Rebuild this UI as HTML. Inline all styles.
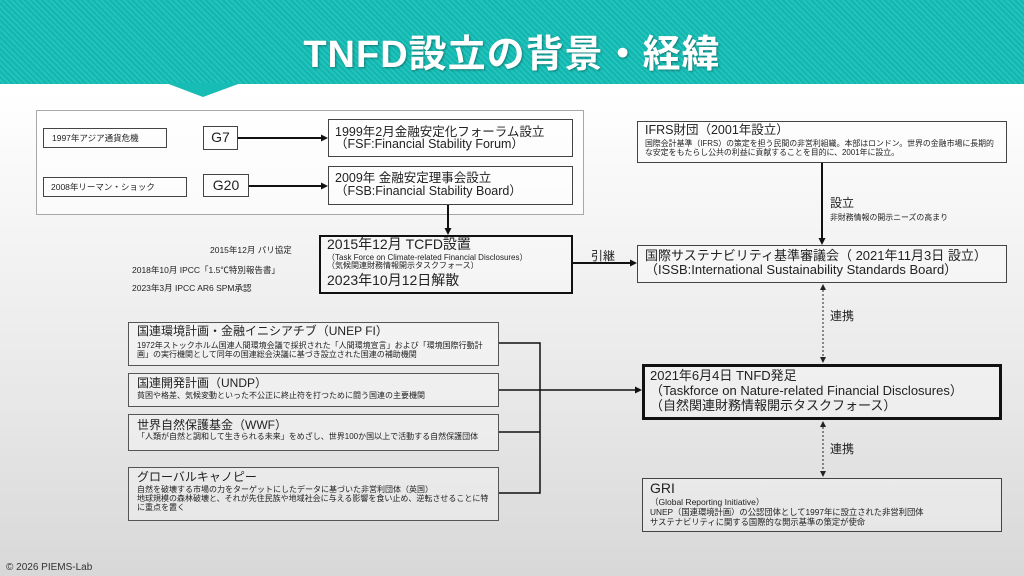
<!DOCTYPE html>
<html><head><meta charset="utf-8"><style>
*{margin:0;padding:0;box-sizing:border-box}
body{width:1024px;height:576px;overflow:hidden;position:relative;font-family:"Liberation Sans","Noto Sans CJK JP",sans-serif;color:#222;background:linear-gradient(to bottom,#ffffff 0px,#ffffff 90px,#f3f3f3 250px,#e6e6e6 420px,#d8d8d8 576px)}
.hdr{position:absolute;left:0;top:0;width:1024px;height:84px;background-color:#17bcb4;background-image:repeating-linear-gradient(45deg,#13b6ae 0px,#13b6ae 2px,#21c3bb 2px,#21c3bb 4px)}
.title{position:absolute;left:0;top:30px;width:1024px;text-align:center;color:#fff;font-size:38px;font-weight:bold;line-height:50px;letter-spacing:1px;font-family:"Liberation Sans","Noto Sans CJK JP",sans-serif;text-shadow:1px 1px 2px rgba(0,0,0,0.35)}
.b{position:absolute;border:1.5px solid #444;background:rgba(255,255,255,0.3)}
.t{position:absolute;white-space:nowrap;line-height:1}
svg{position:absolute;left:0;top:0}
</style></head><body>
<div class="hdr"></div>
<svg width="1024" height="110"><polygon points="166,83 241,83 203,97" fill="#17bcb4"/></svg>
<div class="title">TNFD設立の背景・経緯</div>

<!-- top outer box -->
<div class="b" style="left:36px;top:110px;width:548px;height:105px;border:1px solid #a8a8a8;background:rgba(255,255,255,0.55)"></div>
<div class="b" style="left:43px;top:128px;width:124px;height:20px;border-width:1px"></div>
<div class="b" style="left:43px;top:177px;width:144px;height:20px;border-width:1px"></div>
<div class="b" style="left:203px;top:126px;width:35px;height:24px"></div>
<div class="b" style="left:203px;top:174px;width:46px;height:23px"></div>
<div class="b" style="left:328px;top:119px;width:245px;height:38px"></div>
<div class="b" style="left:328px;top:166px;width:245px;height:39px"></div>

<div class="t" style="left:52px;top:134px;font-size:8.5px">1997年アジア通貨危機</div>
<div class="t" style="left:51px;top:183px;font-size:8.5px">2008年リーマン・ショック</div>
<div class="t" style="left:203px;top:130px;width:35px;text-align:center;font-size:14px">G7</div>
<div class="t" style="left:203px;top:178px;width:46px;text-align:center;font-size:14px">G20</div>
<div class="t" style="left:335px;top:125.5px;font-size:12.5px">1999年2月金融安定化フォーラム設立</div>
<div class="t" style="left:335px;top:137.5px;font-size:12.5px">（FSF:Financial Stability Forum）</div>
<div class="t" style="left:335px;top:171.5px;font-size:12.5px">2009年 金融安定理事会設立</div>
<div class="t" style="left:335px;top:184.5px;font-size:12.5px">（FSB:Financial Stability Board）</div>

<!-- side notes -->
<div class="t" style="left:210px;top:245.5px;font-size:8.5px">2015年12月 パリ協定</div>
<div class="t" style="left:132px;top:265.5px;font-size:8.5px">2018年10月 IPCC「1.5℃特別報告書」</div>
<div class="t" style="left:132px;top:283.5px;font-size:8.5px">2023年3月 IPCC AR6 SPM承認</div>

<!-- TCFD -->
<div class="b" style="left:319px;top:235px;width:254px;height:59px;border:2.5px solid #111"></div>
<div class="t" style="left:327px;top:237px;font-size:14px">2015年12月 TCFD設置</div>
<div class="t" style="left:327px;top:254px;font-size:8px">（Task Force on Climate-related Financial Disclosures）</div>
<div class="t" style="left:327px;top:262px;font-size:8px">（気候関連財務情報開示タスクフォース）</div>
<div class="t" style="left:327px;top:273px;font-size:14px">2023年10月12日解散</div>
<div class="t" style="left:591px;top:250px;font-size:12px">引継</div>

<!-- IFRS -->
<div class="b" style="left:637px;top:121px;width:370px;height:42px"></div>
<div class="t" style="left:645px;top:123.5px;font-size:12.5px">IFRS財団（2001年設立）</div>
<div class="t" style="left:645px;top:140px;font-size:7.9px">国際会計基準（IFRS）の策定を担う民間の非営利組織。本部はロンドン。世界の金融市場に長期的</div>
<div class="t" style="left:645px;top:148.5px;font-size:7.9px">な安定をもたらし公共の利益に貢献することを目的に、2001年に設立。</div>
<div class="t" style="left:830px;top:197px;font-size:12px">設立</div>
<div class="t" style="left:830px;top:214px;font-size:7.9px">非財務情報の開示ニーズの高まり</div>

<!-- ISSB -->
<div class="b" style="left:637px;top:245px;width:370px;height:38px"></div>
<div class="t" style="left:645px;top:248.5px;font-size:13px">国際サステナビリティ基準審議会（ 2021年11月3日 設立）</div>
<div class="t" style="left:645px;top:262.5px;font-size:13px">（ISSB:International Sustainability Standards Board）</div>
<div class="t" style="left:830px;top:310px;font-size:12px">連携</div>

<!-- TNFD -->
<div class="b" style="left:642px;top:364px;width:360px;height:56px;border:3px solid #111"></div>
<div class="t" style="left:650px;top:368.5px;font-size:13px">2021年6月4日 TNFD発足</div>
<div class="t" style="left:650px;top:383.5px;font-size:13px">（Taskforce on Nature-related Financial Disclosures）</div>
<div class="t" style="left:650px;top:398.5px;font-size:13px">（自然関連財務情報開示タスクフォース）</div>
<div class="t" style="left:830px;top:443px;font-size:12px">連携</div>

<!-- GRI -->
<div class="b" style="left:642px;top:478px;width:360px;height:54px"></div>
<div class="t" style="left:650px;top:481px;font-size:14px">GRI</div>
<div class="t" style="left:650px;top:497.5px;font-size:8.5px">（Global Reporting Initiative）</div>
<div class="t" style="left:650px;top:508px;font-size:8.3px">UNEP（国連環境計画）の公認団体として1997年に設立された非営利団体</div>
<div class="t" style="left:650px;top:518px;font-size:8.3px">サステナビリティに関する国際的な開示基準の策定が使命</div>

<!-- left boxes -->
<div class="b" style="left:128px;top:322px;width:371px;height:44px;border-color:#555"></div>
<div class="t" style="left:137px;top:325px;font-size:12px">国連環境計画・金融イニシアチブ（UNEP FI）</div>
<div class="t" style="left:137px;top:342px;font-size:8px">1972年ストックホルム国連人間環境会議で採択された「人間環境宣言」および「環境国際行動計</div>
<div class="t" style="left:137px;top:351px;font-size:8px">画」の実行機関として同年の国連総会決議に基づき設立された国連の補助機関</div>

<div class="b" style="left:128px;top:373px;width:371px;height:34px;border-color:#555"></div>
<div class="t" style="left:137px;top:377px;font-size:12px">国連開発計画（UNDP）</div>
<div class="t" style="left:137px;top:392px;font-size:8px">貧困や格差、気候変動といった不公正に終止符を打つために闘う国連の主要機関</div>

<div class="b" style="left:128px;top:414px;width:371px;height:37px;border-color:#555"></div>
<div class="t" style="left:137px;top:419px;font-size:12px">世界自然保護基金（WWF）</div>
<div class="t" style="left:137px;top:433px;font-size:8px">「人類が自然と調和して生きられる未来」をめざし、世界100か国以上で活動する自然保護団体</div>

<div class="b" style="left:128px;top:467px;width:371px;height:54px;border-color:#555"></div>
<div class="t" style="left:137px;top:471px;font-size:12px">グローバルキャノピー</div>
<div class="t" style="left:137px;top:486px;font-size:8px">自然を破壊する市場の力をターゲットにしたデータに基づいた非営利団体（英国）</div>
<div class="t" style="left:137px;top:495px;font-size:8px">地球規模の森林破壊と、それが先住民族や地域社会に与える影響を食い止め、逆転させることに特</div>
<div class="t" style="left:137px;top:504px;font-size:8px">に重点を置く</div>

<div class="t" style="left:6px;top:563px;font-size:10px;color:#333">© 2026 PIEMS-Lab</div>

<svg width="1024" height="576">
 <g stroke="#111" stroke-width="2" fill="none">
  <line x1="238" y1="138" x2="323" y2="138"/>
  <line x1="249" y1="186" x2="323" y2="186"/>
  <line x1="448" y1="205" x2="448" y2="230"/>
  <line x1="573" y1="263" x2="632" y2="263"/>
  <line x1="822" y1="163" x2="822" y2="240"/>
 </g>
 <g fill="#111">
  <polygon points="328,138 321,134.5 321,141.5"/>
  <polygon points="328,186 321,182.5 321,189.5"/>
  <polygon points="448,235 444.5,228 451.5,228"/>
  <polygon points="637,263 630,259.5 630,266.5"/>
  <polygon points="822,245 818.5,238 825.5,238"/>
 </g>
 <g stroke="#222" stroke-width="1" stroke-dasharray="2,2" fill="none">
  <line x1="823" y1="290" x2="823" y2="357"/>
  <line x1="823" y1="427" x2="823" y2="471"/>
 </g>
 <g fill="#222">
  <polygon points="823,284 820,290 826,290"/>
  <polygon points="823,363 820,357 826,357"/>
  <polygon points="823,421 820,427 826,427"/>
  <polygon points="823,477 820,471 826,471"/>
 </g>
 <g stroke="#111" stroke-width="1.5" fill="none">
  <line x1="499" y1="343" x2="540" y2="343"/>
  <line x1="499" y1="390" x2="637" y2="390"/>
  <line x1="499" y1="432" x2="540" y2="432"/>
  <line x1="499" y1="493" x2="540" y2="493"/>
  <line x1="540" y1="342.3" x2="540" y2="493.7"/>
 </g>
 <polygon points="642,390 635,386.5 635,393.5" fill="#111"/>
</svg>
</body></html>
